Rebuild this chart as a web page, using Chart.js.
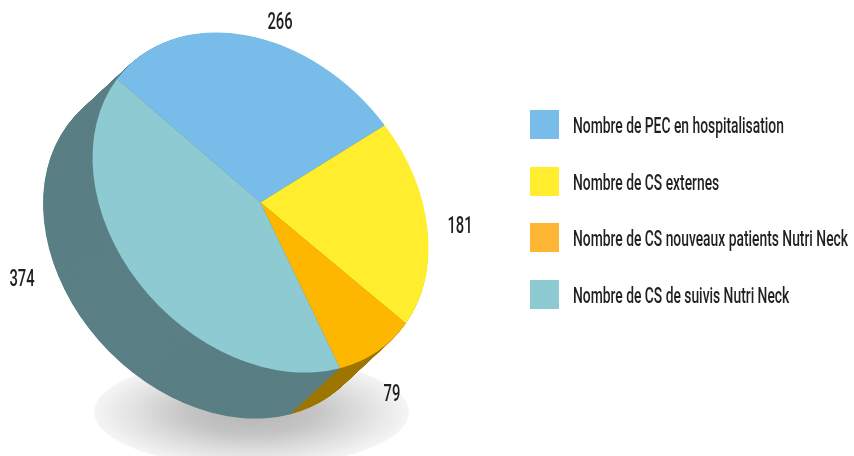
<!DOCTYPE html>
<html><head><meta charset="utf-8">
<style>html,body{margin:0;padding:0;background:#fff}canvas{display:block}</style>
<script src="https://cdn.jsdelivr.net/npm/chart.js@4/dist/chart.umd.js"></script>
</head><body>
<canvas id="c" width="854" height="456"></canvas>
<script>
const categories = ["Nombre de PEC en hospitalisation","Nombre de CS externes","Nombre de CS nouveaux patients Nutri Neck","Nombre de CS de suivis Nutri Neck"];
const values = [266,181,79,374];
const sliceColors = ["#78bde9","#ffed2e","#fdb700","#8ecad1"];
const sideColors = ["#5a7f84","#9e7700","#9e7700","#5a7f84"];
const legendColors = ["#78bde9","#ffed2e","#fdb734","#8ecad1"];

const FONT = '500 22.5px Roboto,"Liberation Sans",sans-serif';
const NUM_FONT = '500 24px Roboto,"Liberation Sans",sans-serif';
const TEXT_COLOR = '#231f20';
function textScale(ctx){
  ctx.save(); ctx.font = FONT;
  const w = ctx.measureText(categories[2]).width;
  ctx.restore();
  return 275 / w;
}
function squeezed(ctx, str, x, y, align, sx, font){
  ctx.save();
  ctx.font = font; ctx.fillStyle = TEXT_COLOR; ctx.textBaseline = 'alphabetic'; ctx.textAlign = align;
  ctx.translate(x, y); ctx.scale(sx, 1);
  ctx.fillText(str, 0, 0);
  ctx.restore();
}

const tilted = {
  id: 'tilted',
  beforeDatasetsDraw(chart){
    const ctx = chart.ctx;
    // floor shadow
    ctx.save();
    ctx.beginPath();
    ctx.translate(251.5, 412); ctx.scale(157.5, 55);
    const g = ctx.createRadialGradient(0,0,0,0,0,1);
    g.addColorStop(0,'#b5b5b5'); g.addColorStop(0.4,'#c4c4c4'); g.addColorStop(0.75,'#e2e2e2'); g.addColorStop(1,'#f5f5f5');
    ctx.fillStyle = g;
    ctx.arc(0,0,1,0,Math.PI*2); ctx.fill();
    ctx.restore();

    const arcs = chart.getDatasetMeta(0).data;
    const R = arcs[0].outerRadius, cx = arcs[0].x, cy = arcs[0].y;
    const m = [87.3/R, -116.8/R, 143.5/R, 123.5/R];
    const apply = (dx,dy) => {
      ctx.setTransform(m[0],m[1],m[2],m[3], 260.5+dx - (m[0]*cx+m[2]*cy), 202.5+dy - (m[1]*cx+m[3]*cy));
    };
    ctx.save();
    const steps = 100, ox = -49.5, oy = 46;
    [0,1,2,3].forEach(i => {
      const arc = arcs[i], saved = arc.options;
      arc.options = Object.assign(Object.create(saved), {backgroundColor: sideColors[i]});
      for (let s = steps; s >= 1; s--) {
        apply(ox*s/steps, oy*s/steps);
        arc.draw(ctx);
      }
      arc.options = saved;
    });
    apply(0,0);
  },
  afterDatasetsDraw(chart){
    const ctx = chart.ctx;
    ctx.restore();
    const sx = textScale(ctx);
    // value labels
    const anchors = [[280,29],[460,233],[392,401],[22,286]];
    values.forEach((v,i)=> squeezed(ctx, String(v), anchors[i][0], anchors[i][1], 'center', sx, NUM_FONT));
    // legend
    const rows = [110,167,223,280];
    categories.forEach((t,i)=>{
      ctx.fillStyle = legendColors[i];
      ctx.fillRect(530, rows[i], 29, 29);
      squeezed(ctx, t, 573, rows[i]+23, 'left', sx, FONT);
    });
  }
};

new Chart(document.getElementById('c'), {
  type: 'pie',
  data: { labels: categories, datasets: [{ data: values, backgroundColor: sliceColors, borderWidth: 0, hoverOffset: 0, clip: false }] },
  options: {
    responsive: false, animation: false, devicePixelRatio: 1,
    layout: { padding: 0 },
    plugins: { legend: { display: false }, tooltip: { enabled: false } }
  },
  plugins: [tilted]
});
</script>
</body></html>
